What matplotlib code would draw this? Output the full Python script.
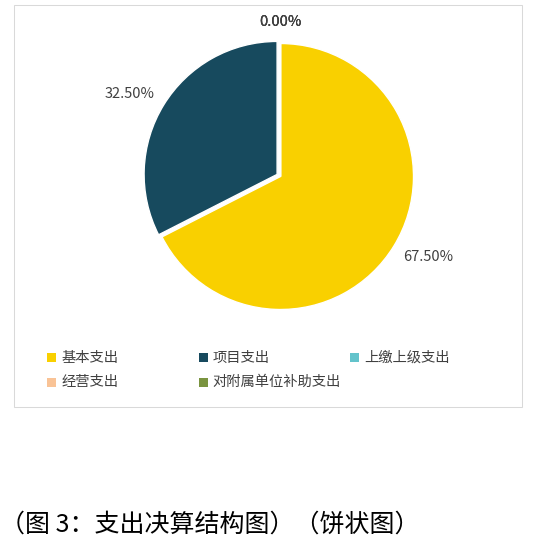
import numpy as np
import matplotlib
matplotlib.use('Agg')
import matplotlib.pyplot as plt
from matplotlib.patches import Rectangle

plt.rcParams['font.family'] = ['Noto Sans CJK SC', 'DejaVu Sans']

# data
categories = ['基本支出', '项目支出', '上缴上级支出', '经营支出', '对附属单位补助支出']
shares = [67.50, 32.50, 0.00, 0.00, 0.00]
colors = ['#F9D000', '#174A5E', '#63C3CB', '#F9C396', '#7A9440']
caption = '（图 3：支出决算结构图）（饼状图）'

W, H = 539, 555
TEXT = '#404040'

fig = plt.figure(figsize=(W / 100, H / 100), dpi=100)
ax = fig.add_axes([0, 0, 1, 1])


def flip(y):
    # pixel row (from top) -> data y
    return H - y


cx, cy, r = 280.5, flip(176.5), 133
explode = [0, 0.03 * r, 0, 0, 0]

wedges, _ = ax.pie(shares, colors=colors, startangle=90, counterclock=False,
                   center=(cx, cy), radius=r, explode=explode,
                   wedgeprops=dict(edgecolor='white', linewidth=1))

# data labels outside the pie; labels are wider than tall so sit on an ellipse
for w, v in zip(wedges, shares):
    th = np.deg2rad((w.theta1 + w.theta2) / 2)
    x0, y0 = w.center
    ax.text(x0 + 1.30 * r * np.cos(th), y0 + 1.16 * r * np.sin(th), f'{v:.2f}%',
            ha='center', va='center', fontsize=10.5, color=TEXT)

# legend, laid out like the excel one (3 per row)
legend_cols = [51.7, 203.3, 354.3]
legend_rows = [357.7, 382.3]
for i, (name, c) in enumerate(zip(categories, colors)):
    mx = legend_cols[i % 3]
    my = flip(legend_rows[i // 3])
    ax.add_patch(Rectangle((mx - 4.5, my - 4.5), 9, 9, facecolor=c, lw=0))
    ax.text(mx + 9.5, my, name, ha='left', va='center', fontsize=10.3, color=TEXT)

# chart frame
ax.add_patch(Rectangle((14, flip(407)), 507.7, 402, fill=False,
                       edgecolor='#D9D9D9', lw=0.75))

ax.text(0, flip(525), caption, ha='left', va='center', fontsize=18, color='black')

ax.set_xlim(0, W)
ax.set_ylim(0, H)
ax.set_aspect('auto')
ax.axis('off')

fig.savefig('out.png', dpi=100)
